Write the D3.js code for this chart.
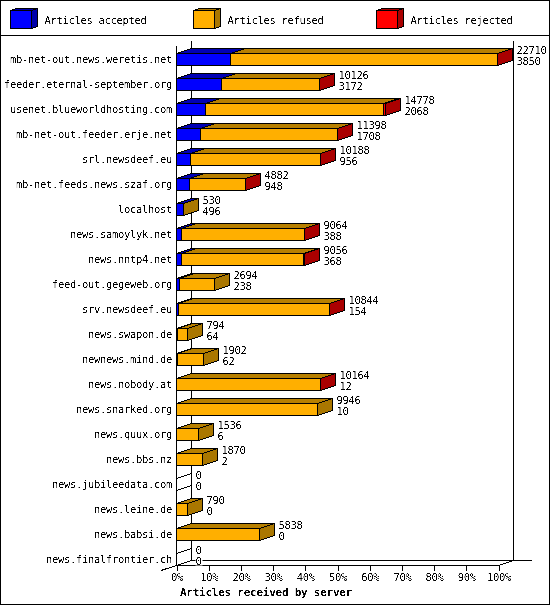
<!DOCTYPE html>
<html><head><meta charset="utf-8">
<script src="https://cdn.jsdelivr.net/npm/d3@7/dist/d3.min.js"></script>
<style>
html,body{margin:0;padding:0;background:#fff}
svg{display:block}
text{font-family:"DejaVu Sans Mono",monospace;font-size:10.5px;letter-spacing:-0.32px;fill:#000}
</style></head><body>
<svg id="c" width="550" height="605"></svg>
<script>
const servers=["mb-net-out.news.weretis.net","feeder.eternal-september.org","usenet.blueworldhosting.com","mb-net-out.feeder.erje.net","srl.newsdeef.eu","mb-net.feeds.news.szaf.org","localhost","news.samoylyk.net","news.nntp4.net","feed-out.gegeweb.org","srv.newsdeef.eu","news.swapon.de","newnews.mind.de","news.nobody.at","news.snarked.org","news.quux.org","news.bbs.nz","news.jubileedata.com","news.leine.de","news.babsi.de","news.finalfrontier.ch"];
const totals=[22710,10126,14778,11398,10188,4882,530,9064,9056,2694,10844,794,1902,10164,9946,1536,1870,0,790,5838,0];
const accepted=[3850,3172,2068,1708,956,948,496,388,368,238,154,64,62,12,10,6,2,0,0,0,0];
const refused=[18850,6948,12600,9682,9228,3930,34,8670,8648,2456,10684,730,1840,10148,9936,1530,1868,0,790,5838,0];
const rejected=[10,6,110,8,4,4,0,6,40,0,6,0,0,4,0,0,0,0,0,0,0];
const legendLabels=["Articles accepted","Articles refused","Articles rejected"];
const frontColors=["#0000ff","#ffaf00","#ff0000"];
const topColors=["#0000b4","#b88000","#b40000"];
const sideColors=["#0000aa","#aa7700","#aa0000"];
const percentTicks=[0,10,20,30,40,50,60,70,80,90,100];
const axisTitle="Articles received by server";

const svg=d3.select("#c");
const defs=svg.append("defs");
const f=defs.append("filter").attr("id","hard").attr("x","-5%").attr("y","-20%").attr("width","110%").attr("height","140%")
  .attr("color-interpolation-filters","sRGB");
f.append("feComponentTransfer").append("feFuncA").attr("type","linear").attr("slope",4).attr("intercept",-1.6);
const crisp=g=>g.attr("shape-rendering","crispEdges");
const px=v=>Math.round(v-0.5)+0.5;
const DX=15,DY=5,BH=12;
const x=d3.scaleLinear().domain([0,d3.max(totals)]).range([176.5,497.5]);
const xp=d3.scaleLinear().domain([0,100]).range([176.5,498.5]);
const y=d3.scalePoint().domain(servers).range([53.5,553.5]);
const yBase=565.5,yTop=45.5;

// frame
const frame=svg.append("g").call(crisp).attr("stroke","#000").attr("fill","none");
frame.append("rect").attr("x",.5).attr("y",.5).attr("width",549).attr("height",604);
frame.append("line").attr("x1",0).attr("x2",550).attr("y1",35.5).attr("y2",35.5);

// legend
const lg=svg.append("g").selectAll("g").data(legendLabels).join("g")
  .attr("transform",(d,i)=>`translate(${10+183*i},0)`);
lg.each(function(d,i){
  const g=d3.select(this).append("g").call(crisp).attr("stroke","#000");
  g.append("path").attr("fill",sideColors[i]).attr("d","M21.5,10.5L27.5,8.5V26.5L21.5,28.5Z");
  g.append("path").attr("fill",sideColors[i]).attr("d","M.5,10.5L6.5,8.5H27.5L21.5,10.5Z");
  g.append("rect").attr("fill",frontColors[i]).attr("x",.5).attr("y",10.5).attr("width",21).attr("height",18);
});
lg.append("text").attr("x",34.5).attr("y",24).attr("filter","url(#hard)").text(d=>d);

// walls
const wall=svg.append("g").call(crisp).attr("stroke","#000").attr("fill","none");
wall.append("line").attr("x1",176.5).attr("x2",176.5).attr("y1",yTop).attr("y2",yBase);
wall.append("line").attr("x1",176.5+DX).attr("x2",176.5+DX).attr("y1",yTop-DY).attr("y2",yBase-DY);
wall.append("line").attr("x1",498.5+DX).attr("x2",498.5+DX).attr("y1",yTop-DY).attr("y2",yBase-DY);
wall.append("line").attr("x1",176.5+DX).attr("x2",532).attr("y1",yBase-DY).attr("y2",yBase-DY);
wall.append("line").attr("x1",176.5).attr("x2",498.5).attr("y1",yBase).attr("y2",yBase);
wall.append("line").attr("x1",161).attr("y1",yBase+5).attr("x2",176.5+DX).attr("y2",yBase-DY);
wall.append("line").attr("x1",498.5).attr("y1",yBase).attr("x2",498.5+DX).attr("y2",yBase-DY);

// bars
const rows=svg.append("g").call(crisp).attr("stroke","#000").attr("stroke-linejoin","miter");
servers.forEach((s,i)=>{
  const t=y(s), segs=[accepted[i],refused[i],rejected[i]];
  let cum=0; const g=rows.append("g");
  const edges=segs.map(v=>{const a=cum;cum+=v;return [a,cum,v];});
  edges.forEach((e,k)=>{
    if(e[2]<=0) return;
    const a=px(x(e[0])),b=px(x(e[1]));
    g.append("path").attr("fill",topColors[k]).attr("d",`M${a},${t}L${a+DX},${t-DY}H${b+DX}L${b},${t}Z`);
  });
  let last=-1; segs.forEach((v,k)=>{if(v>0) last=k;});
  const end=px(x(cum));
  g.append("path").attr("fill",last<0?"none":sideColors[last]).attr("d",`M${end},${t}L${end+DX},${t-DY}V${t+BH-DY}L${end},${t+BH}Z`);
  edges.forEach((e,k)=>{
    if(e[2]<=0) return;
    const a=px(x(e[0])),b=px(x(e[1]));
    g.append("rect").attr("fill",frontColors[k]).attr("x",a).attr("y",t).attr("width",b-a).attr("height",BH);
  });
});

// value labels
const labels=svg.append("g");
servers.forEach((s,i)=>{
  const t=y(s), lx=px(x(totals[i]))+DX+4;
  const w=String(accepted[i]).length*6+1;
  labels.append("rect").attr("x",lx).attr("y",t+3).attr("width",w).attr("height",9).attr("fill","#fff");
  labels.append("text").attr("x",lx).attr("y",t+0.5).attr("filter","url(#hard)").text(totals[i]);
  labels.append("text").attr("x",lx).attr("y",t+11.5).attr("filter","url(#hard)").text(accepted[i]);
});

// category labels
svg.append("g").selectAll("text").data(servers).join("text")
  .attr("x",172).attr("y",d=>y(d)+9.5).attr("text-anchor","end").attr("filter","url(#hard)").text(d=>d);

// x axis
const ax=svg.append("g").attr("transform",`translate(0,${yBase})`)
  .call(d3.axisBottom(xp).tickValues(percentTicks).tickSize(5).tickPadding(3.5).tickFormat(d=>d+"%"));
ax.select(".domain").remove();
ax.selectAll("line").attr("shape-rendering","crispEdges");
ax.selectAll("text").attr("filter","url(#hard)");
ax.attr("font-family",null).attr("font-size",null);

svg.append("text").attr("x",266).attr("y",596).attr("text-anchor","middle")
  .attr("filter","url(#hard)").style("font-weight","bold").style("font-size","11px").style("letter-spacing","-0.25px").text(axisTitle);
</script></body></html>
